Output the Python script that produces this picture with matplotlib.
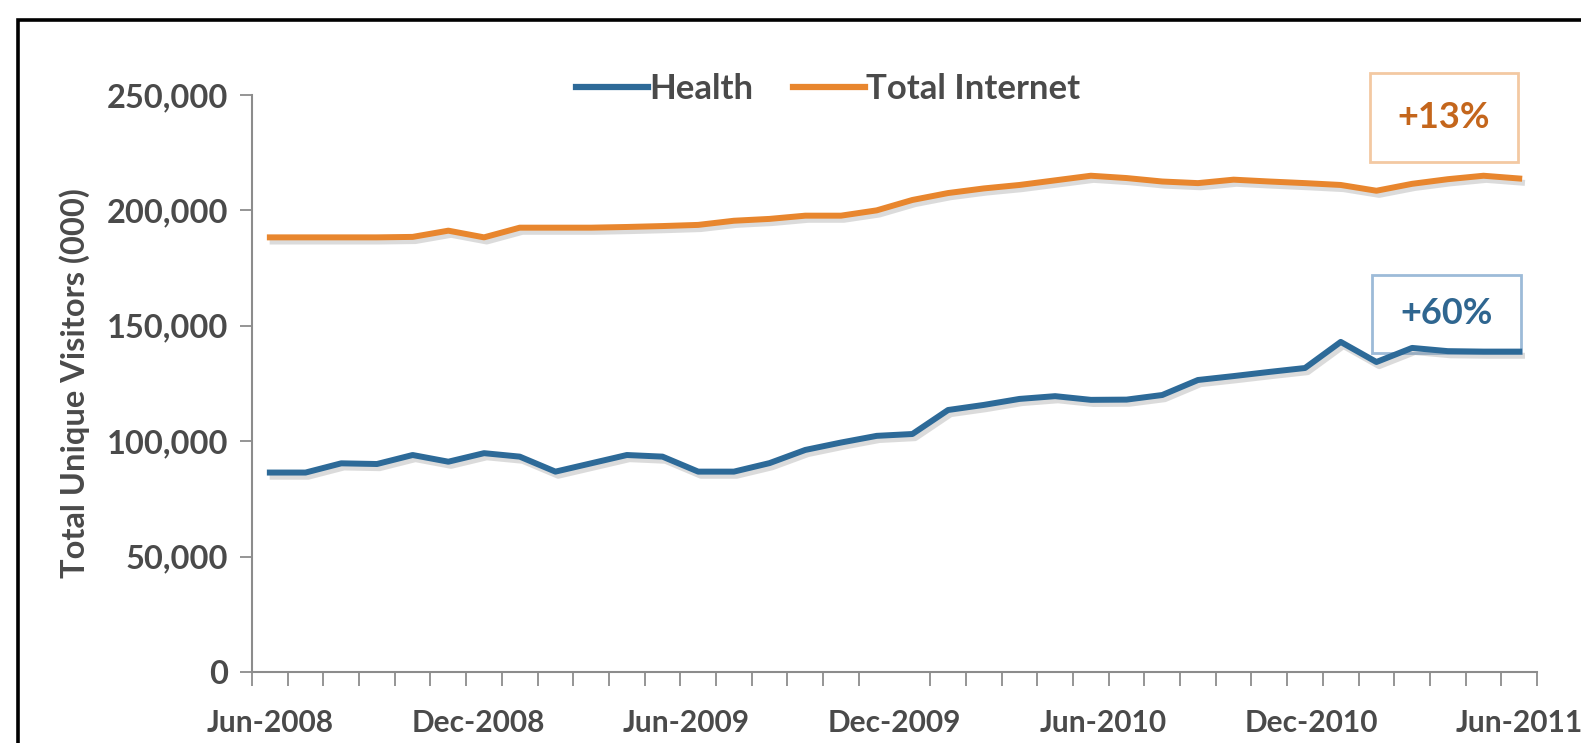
import matplotlib
matplotlib.use("Agg")
import matplotlib.pyplot as plt
import matplotlib.patheffects as pe
from matplotlib.patches import Rectangle
from matplotlib.ticker import FuncFormatter, FixedLocator
import numpy as np

# monthly unique visitors (000s), Jun-2008 .. May-2011
health = [86.4, 86.4, 90.4, 90.1, 94.0, 91.1, 94.8, 93.3, 86.8, 90.4,
          94.0, 93.3, 86.8, 86.8, 90.5, 96.2, 99.4, 102.3, 103.1, 113.5,
          115.7, 118.3, 119.5, 117.9, 118.0, 120.0, 126.5, 128.2, 130.0, 131.7,
          143.0, 134.3, 140.4, 139.0, 138.8, 138.8]
total_internet = [188.3, 188.3, 188.3, 188.3, 188.5, 191.2, 188.3, 192.5, 192.5, 192.5,
                  192.8, 193.2, 193.7, 195.5, 196.3, 197.7, 197.7, 200.0, 204.5, 207.5,
                  209.5, 211.0, 213.0, 215.0, 214.0, 212.5, 211.8, 213.3, 212.5, 211.8,
                  211.0, 208.5, 211.5, 213.5, 215.0, 213.8]
date_labels = ["Jun-2008", "Dec-2008", "Jun-2009", "Dec-2009",
               "Jun-2010", "Dec-2010", "Jun-2011"]
growth_labels = ["+13%", "+60%"]

BLUE = "#2d6a98"
ORANGE = "#e8862e"
TEXT = "#4a4a4a"
AXIS = "#8c8c8c"

plt.rcParams["font.family"] = ["Lato", "DejaVu Sans"]
plt.rcParams["font.weight"] = "bold"

fig = plt.figure(figsize=(15.81, 7.43), dpi=100)
ax = fig.add_axes([0.1594, 0.0956, 0.8128, 0.7766])

x = np.arange(len(health))
health_k = np.array(health) * 1000
total_k = np.array(total_internet) * 1000

shadow = [pe.SimpleLineShadow(offset=(2, -3), shadow_color="#8a8a8a", alpha=0.3),
          pe.Normal()]
ax.plot(x, health_k, color=BLUE, lw=4.3, solid_joinstyle="round",
        label="Health", path_effects=shadow, zorder=4)
ax.plot(x, total_k, color=ORANGE, lw=4.3, solid_joinstyle="round",
        label="Total Internet", path_effects=shadow, zorder=4)

ax.set_xlim(-0.5, len(health) - 0.5)
ax.set_ylim(0, 250000)
ax.set_yticks(np.arange(0, 250001, 50000))
ax.yaxis.set_major_formatter(FuncFormatter(lambda v, p: f"{int(v):,}"))

# labels every six months, tick marks between every month
ax.xaxis.set_major_locator(FixedLocator(np.linspace(0, len(health) - 1, len(date_labels))))
ax.set_xticklabels(date_labels)
ax.xaxis.set_minor_locator(FixedLocator(np.arange(-0.5, len(health), 1.0)))
ax.tick_params(axis="x", which="major", length=0, pad=27, labelsize=21.5, labelcolor=TEXT)
ax.tick_params(axis="x", which="minor", length=10, width=1.3, color=AXIS)
ax.tick_params(axis="y", length=9, width=1.3, color=AXIS, pad=8, labelsize=23.5, labelcolor=TEXT)

for side in ["top", "right"]:
    ax.spines[side].set_visible(False)
for side in ["left", "bottom"]:
    ax.spines[side].set_color(AXIS)
    ax.spines[side].set_linewidth(1.5)

ax.set_ylabel("Total Unique Visitors (000)", fontsize=23.5, fontweight="bold",
              color=TEXT, labelpad=12)

leg = fig.legend(loc="center", bbox_to_anchor=(0.524, 0.880), ncol=2, frameon=False,
                 fontsize=25, handlelength=2.05, handletextpad=0.05, columnspacing=1.15)
for t in leg.get_texts():
    t.set_color(TEXT)
for h in leg.get_lines():
    h.set_linewidth(4.5)
    h.set_path_effects([])

# growth call-out boxes
boxes = [((0.870, 0.884), 0.115, 0.154, "#f3c9a2", "#c4661c", growth_labels[0]),
         ((0.8716, 0.553), 0.116, 0.135, "#9dbbd8", "#2f6690", growth_labels[1])]
for (bx, by), bw, bh, ec, tc, label in boxes:
    ax.add_patch(Rectangle((bx, by), bw, bh, transform=ax.transAxes, facecolor="white",
                           edgecolor=ec, lw=2, zorder=3, clip_on=False))
    ax.text(bx + bw / 2, by + bh / 2, label, transform=ax.transAxes, ha="center",
            va="center", fontsize=26, color=tc, zorder=3.5)

# frame around the whole chart
fig.patches.append(Rectangle((18 / 1581, -0.1), 1.2, 1 - 20 / 743 + 0.1,
                             transform=fig.transFigure, fill=False, edgecolor="black",
                             lw=2.6, zorder=0))

fig.savefig("out.png", dpi=100, facecolor="white")
plt.close(fig)
